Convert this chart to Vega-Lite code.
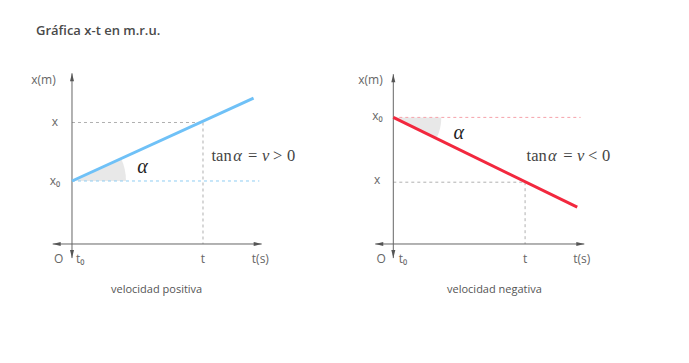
{
  "$schema": "https://vega.github.io/schema/vega-lite/v6.json",
  "padding": {"top": 25, "left": 0, "right": 0, "bottom": 0},
  "title": {"text": "Gráfica x-t en m.r.u.", "anchor": "start", "frame": "bounds", "dx": 36, "offset": 22, "fontSize": 13, "font": "Open Sans", "fontWeight": 600, "color": "#4a4a4a"},
  "spacing": 0,
  "hconcat": [
    {
      "width": 344,
      "height": 250,
      "encoding": {
        "x": {"field": "t", "type": "quantitative", "axis": null, "scale": {"domain": [-2.748, 10.382], "nice": false, "zero": false}},
        "y": {"field": "x", "type": "quantitative", "axis": null, "scale": {"domain": [-2.2, 6.1333], "nice": false, "zero": false}}
      },
      "layer": [
        {"data": {"values": [{"t": 0, "x": 2.1}]}, "mark": {"type": "arc", "theta": 1.143, "theta2": 1.5708, "outerRadius": 54, "innerRadius": 0, "fill": "#e8e8e8"}},
        {"data": {"values": [{"t": 0, "x": 4.05, "t2": 5, "x2": 4.05}, {"t": 5, "x": 4.05, "t2": 5, "x2": 0}]}, "mark": {"type": "rule", "color": "#b0b0b0", "strokeWidth": 1, "strokeDash": [3, 3]}, "encoding": {"x2": {"field": "t2"}, "y2": {"field": "x2"}}},
        {"data": {"values": [{"t": 0, "x": 2.1, "t2": 7.15, "x2": 2.1}]}, "mark": {"type": "rule", "color": "#8fcdf3", "strokeWidth": 1, "strokeDash": [3, 3]}, "encoding": {"x2": {"field": "t2"}, "y2": {"field": "x2"}}},
        {"data": {"values": [{"t": -0.737, "x": 0, "t2": 7.24, "x2": 0}, {"t": 0, "x": -0.47, "t2": 0, "x2": 5.69}]}, "mark": {"type": "rule", "color": "#666666", "strokeWidth": 1}, "encoding": {"x2": {"field": "t2"}, "y2": {"field": "x2"}}},
        {"data": {"values": [{"t": 7.24, "x": 0, "dir": 90}, {"t": -0.737, "x": 0, "dir": 270}, {"t": 0, "x": 5.69, "dir": 0}, {"t": 0, "x": -0.47, "dir": 180}]}, "mark": {"type": "point", "shape": "M0,0L0.5,2L-0.5,2Z", "filled": true, "size": 64, "color": "#555555", "opacity": 1}, "encoding": {"angle": {"field": "dir", "type": "quantitative", "scale": {"domain": [0, 360], "range": [0, 360]}}}},
        {"data": {"values": [{"t": 0, "x": 2.1, "t2": 6.93, "x2": 4.86}]}, "mark": {"type": "rule", "color": "#6fc1f7", "strokeWidth": 3}, "encoding": {"x2": {"field": "t2"}, "y2": {"field": "x2"}}},
        {"data": {"values": [{"t": -1.09, "x": 5.47, "label": "x(m)"}, {"t": -0.656, "x": 4.05, "label": "x"}, {"t": -0.649, "x": 2.1, "label": "x₀"}, {"t": -0.51, "x": -0.5, "label": "O"}, {"t": 0.317, "x": -0.5, "label": "t₀"}, {"t": 5.0, "x": -0.5, "label": "t"}, {"t": 7.19, "x": -0.5, "label": "t(s)"}]}, "mark": {"type": "text", "font": "Open Sans", "fontSize": 12, "color": "#666666", "align": "center", "baseline": "middle"}, "encoding": {"text": {"field": "label"}}},
        {"data": {"values": [{"t": 3.23, "x": -1.53, "label": "velocidad positiva"}]}, "mark": {"type": "text", "font": "Open Sans", "fontSize": 11, "color": "#555555", "align": "center", "baseline": "middle"}, "encoding": {"text": {"field": "label"}}},
        {"data": {"values": [{"t": 5.71, "x": 2.93, "label": "tan"}, {"t": 6.9, "x": 2.93, "label": "="}, {"t": 7.85, "x": 2.93, "label": ">"}, {"t": 8.36, "x": 2.93, "label": "0"}]}, "mark": {"type": "text", "font": "Liberation Serif", "fontSize": 16.5, "color": "#444444", "align": "center", "baseline": "middle"}, "encoding": {"text": {"field": "label"}}},
        {"data": {"values": [{"t": 6.32, "x": 2.93, "label": "α"}, {"t": 7.39, "x": 2.93, "label": "v"}]}, "mark": {"type": "text", "font": "Liberation Serif", "fontStyle": "italic", "fontSize": 16.5, "color": "#444444", "align": "center", "baseline": "middle"}, "encoding": {"text": {"field": "label"}}},
        {"data": {"values": [{"t": 2.69, "x": 2.58, "label": "α"}]}, "mark": {"type": "text", "font": "Liberation Serif", "fontStyle": "italic", "fontSize": 20, "color": "#222222", "align": "center", "baseline": "middle"}, "encoding": {"text": {"field": "label"}}}
      ]
    },
    {
      "width": 344,
      "height": 250,
      "encoding": {
        "x": {"field": "t", "type": "quantitative", "axis": null, "scale": {"domain": [-1.882, 11.248], "nice": false, "zero": false}},
        "y": {"field": "x", "type": "quantitative", "axis": null, "scale": {"domain": [-2.2, 6.1333], "nice": false, "zero": false}}
      },
      "layer": [
        {"data": {"values": [{"t": 0, "x": 4.22}]}, "mark": {"type": "arc", "theta": 1.5708, "theta2": 2.02, "outerRadius": 48, "innerRadius": 0, "fill": "#e8e8e8"}},
        {"data": {"values": [{"t": 0, "x": 2.06, "t2": 5.03, "x2": 2.06}, {"t": 5.03, "x": 2.06, "t2": 5.03, "x2": 0}]}, "mark": {"type": "rule", "color": "#b0b0b0", "strokeWidth": 1, "strokeDash": [3, 3]}, "encoding": {"x2": {"field": "t2"}, "y2": {"field": "x2"}}},
        {"data": {"values": [{"t": 0, "x": 4.22, "t2": 7.15, "x2": 4.22}]}, "mark": {"type": "rule", "color": "#f5a3ab", "strokeWidth": 1, "strokeDash": [3, 3]}, "encoding": {"x2": {"field": "t2"}, "y2": {"field": "x2"}}},
        {"data": {"values": [{"t": -0.69, "x": 0, "t2": 7.29, "x2": 0}, {"t": 0, "x": -0.47, "t2": 0, "x2": 5.66}]}, "mark": {"type": "rule", "color": "#666666", "strokeWidth": 1}, "encoding": {"x2": {"field": "t2"}, "y2": {"field": "x2"}}},
        {"data": {"values": [{"t": 7.29, "x": 0, "dir": 90}, {"t": -0.69, "x": 0, "dir": 270}, {"t": 0, "x": 5.66, "dir": 0}, {"t": 0, "x": -0.47, "dir": 180}]}, "mark": {"type": "point", "shape": "M0,0L0.5,2L-0.5,2Z", "filled": true, "size": 64, "color": "#555555", "opacity": 1}, "encoding": {"angle": {"field": "dir", "type": "quantitative", "scale": {"domain": [0, 360], "range": [0, 360]}}}},
        {"data": {"values": [{"t": 0, "x": 4.22, "t2": 7.02, "x2": 1.23}]}, "mark": {"type": "rule", "color": "#f2283e", "strokeWidth": 3}, "encoding": {"x2": {"field": "t2"}, "y2": {"field": "x2"}}},
        {"data": {"values": [{"t": -0.87, "x": 5.47, "label": "x(m)"}, {"t": -0.603, "x": 4.26, "label": "x₀"}, {"t": -0.62, "x": 2.12, "label": "x"}, {"t": -0.46, "x": -0.5, "label": "O"}, {"t": 0.37, "x": -0.5, "label": "t₀"}, {"t": 5.03, "x": -0.5, "label": "t"}, {"t": 7.19, "x": -0.5, "label": "t(s)"}]}, "mark": {"type": "text", "font": "Open Sans", "fontSize": 12, "color": "#666666", "align": "center", "baseline": "middle"}, "encoding": {"text": {"field": "label"}}},
        {"data": {"values": [{"t": 3.86, "x": -1.53, "label": "velocidad negativa"}]}, "mark": {"type": "text", "font": "Open Sans", "fontSize": 11, "color": "#555555", "align": "center", "baseline": "middle"}, "encoding": {"text": {"field": "label"}}},
        {"data": {"values": [{"t": 5.47, "x": 2.93, "label": "tan"}, {"t": 6.66, "x": 2.93, "label": "="}, {"t": 7.61, "x": 2.93, "label": "<"}, {"t": 8.12, "x": 2.93, "label": "0"}]}, "mark": {"type": "text", "font": "Liberation Serif", "fontSize": 16.5, "color": "#444444", "align": "center", "baseline": "middle"}, "encoding": {"text": {"field": "label"}}},
        {"data": {"values": [{"t": 6.07, "x": 2.93, "label": "α"}, {"t": 7.15, "x": 2.93, "label": "v"}]}, "mark": {"type": "text", "font": "Liberation Serif", "fontStyle": "italic", "fontSize": 16.5, "color": "#444444", "align": "center", "baseline": "middle"}, "encoding": {"text": {"field": "label"}}},
        {"data": {"values": [{"t": 2.5, "x": 3.71, "label": "α"}]}, "mark": {"type": "text", "font": "Liberation Serif", "fontStyle": "italic", "fontSize": 20, "color": "#222222", "align": "center", "baseline": "middle"}, "encoding": {"text": {"field": "label"}}}
      ]
    }
  ],
  "config": {"view": {"stroke": null}, "concat": {"spacing": 0}}
}
